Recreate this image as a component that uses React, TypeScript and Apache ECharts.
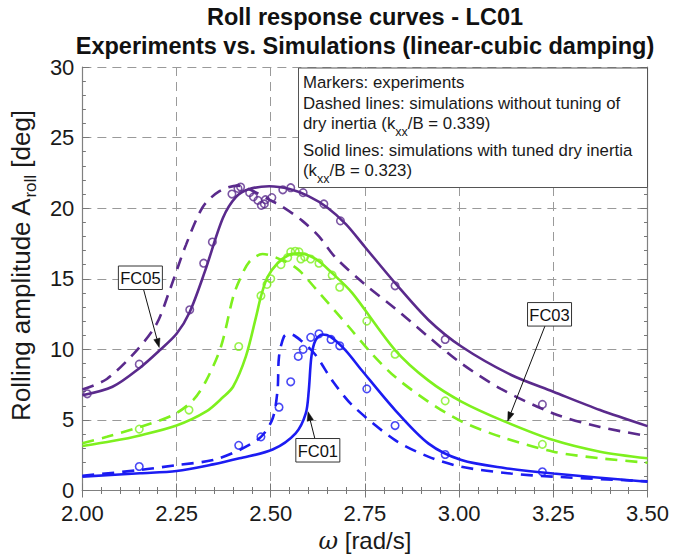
import React, { useEffect, useRef } from "react";
import * as echarts from "echarts";

// ---------- data (omega [rad/s], roll amplitude [deg]) ----------
const fc05Experiments: [number, number][] = [
  [2.013, 6.85], [2.151, 8.95], [2.285, 12.8], [2.322, 16.1], [2.345, 17.6], [2.397, 21.0],
  [2.413, 21.4], [2.42, 21.5], [2.444, 21.1], [2.454, 20.8], [2.466, 20.55], [2.475, 20.2],
  [2.483, 20.3], [2.486, 20.6], [2.503, 20.75], [2.532, 21.3], [2.553, 21.45], [2.586, 21.1],
  [2.641, 20.3], [2.685, 19.1], [2.83, 14.5], [2.963, 10.7], [3.221, 6.1],
];
const fc03Experiments: [number, number][] = [
  [2.151, 4.35], [2.283, 5.7], [2.415, 10.2], [2.474, 13.8], [2.49, 14.6], [2.5, 15.0],
  [2.527, 16.0], [2.545, 16.5], [2.553, 16.9], [2.565, 16.95], [2.575, 16.9], [2.58, 16.4],
  [2.59, 16.55], [2.606, 16.4], [2.628, 16.1], [2.663, 15.25], [2.683, 14.4], [2.755, 12.0],
  [2.83, 9.65], [2.963, 6.35], [3.221, 3.27],
];
const fc01Experiments: [number, number][] = [
  [2.151, 1.7], [2.415, 3.2], [2.474, 3.8], [2.522, 5.9], [2.553, 7.7], [2.573, 9.5],
  [2.586, 10.0], [2.606, 10.85], [2.628, 11.1], [2.66, 10.7], [2.683, 10.25], [2.755, 7.2],
  [2.83, 4.6], [2.963, 2.55], [3.221, 1.33],
];

// simulations with tuned dry inertia (solid)
const fc05Tuned: [number, number][] = [
  [2.0, 6.75], [2.08, 7.35], [2.153, 8.7], [2.206, 9.95], [2.25, 11.1], [2.285, 12.65],
  [2.325, 15.5], [2.373, 19.3], [2.408, 20.8], [2.443, 21.35], [2.496, 21.55], [2.55, 21.35],
  [2.6, 20.85], [2.65, 20.05], [2.7, 18.85], [2.75, 17.25], [2.83, 14.7], [2.918, 12.1],
  [3.006, 10.2], [3.137, 8.2], [3.25, 7.0], [3.374, 5.7], [3.5, 4.56],
];
const fc03Tuned: [number, number][] = [
  [2.0, 3.15], [2.08, 3.5], [2.153, 3.9], [2.25, 4.6], [2.329, 5.6], [2.373, 6.6],
  [2.4, 7.35], [2.434, 9.5], [2.461, 12.3], [2.474, 13.75], [2.491, 15.1], [2.518, 16.1],
  [2.549, 16.7], [2.575, 16.8], [2.619, 16.4], [2.663, 15.4], [2.716, 14.0], [2.83, 9.95],
  [2.918, 7.8], [3.006, 6.3], [3.12, 4.9], [3.25, 3.57], [3.374, 2.75], [3.5, 2.28],
];
const fc01Tuned: [number, number][] = [
  [2.0, 0.98], [2.153, 1.22], [2.25, 1.38], [2.347, 1.85], [2.417, 2.28], [2.505, 2.9],
  [2.566, 4.05], [2.593, 5.46], [2.601, 7.1], [2.608, 9.5], [2.619, 10.65], [2.637, 11.05],
  [2.658, 10.9], [2.698, 9.95], [2.742, 8.5], [2.83, 5.7], [2.918, 3.34],
  [3.006, 2.16], [3.12, 1.6], [3.25, 1.2], [3.5, 0.62],
];

// simulations without tuning (dashed)
const fc05Untuned: [number, number][] = [
  [2.0, 7.15], [2.065, 7.9], [2.145, 9.95], [2.197, 11.8], [2.232, 14.2], [2.275, 17.4],
  [2.32, 20.1], [2.364, 21.2], [2.412, 21.6], [2.45, 21.25], [2.496, 20.6], [2.531, 20.1],
  [2.584, 19.1], [2.628, 18.0], [2.672, 16.5], [2.75, 14.6], [2.83, 12.9], [2.918, 10.9],
  [3.006, 9.0], [3.111, 7.2], [3.25, 5.46], [3.374, 4.5], [3.5, 3.86],
];
const fc03Untuned: [number, number][] = [
  [2.0, 3.35], [2.065, 3.8], [2.153, 4.5], [2.241, 5.35], [2.294, 6.4], [2.329, 7.8],
  [2.368, 10.2], [2.4, 13.7], [2.417, 14.9], [2.443, 16.2], [2.478, 16.75], [2.54, 16.2],
  [2.575, 15.6], [2.619, 14.3], [2.707, 11.6], [2.768, 9.7], [2.83, 8.05], [2.918, 6.3],
  [3.006, 4.9], [3.111, 3.8], [3.25, 2.75], [3.374, 2.28], [3.5, 1.97],
];
const fc01Untuned: [number, number][] = [
  [2.0, 1.05], [2.153, 1.45], [2.25, 1.8], [2.347, 2.16], [2.417, 2.87],
  [2.474, 3.8], [2.505, 5.1], [2.518, 7.1], [2.522, 9.5], [2.535, 10.9], [2.549, 11.1],
  [2.579, 10.65], [2.619, 9.6], [2.663, 7.8], [2.716, 6.05], [2.83, 3.57],
  [2.918, 2.4], [3.006, 1.68], [3.137, 1.2], [3.25, 0.98], [3.5, 0.65],
];

// annotations (data coordinates)
const annotationLabels = ["FC05", "FC01", "FC03"];
const annotationBoxCenters: [number, number][] = [[2.154, 15.07], [2.625, 2.85], [3.24, 12.48]];
const annotationArrowTips: [number, number][] = [[2.204, 10.13], [2.599, 5.58], [3.129, 4.92]];

const titleLines = ["Roll response curves - LC01", "Experiments vs. Simulations (linear-cubic damping)"];
const noteLines = [
  "Markers: experiments",
  "Dashed lines: simulations without tuning of",
  "dry inertia (k{sub|xx}/B = 0.339)",
  "Solid lines: simulations with tuned dry inertia",
  "(k{sub|xx}/B = 0.323)",
];

const PURPLE = "#5a2a8c";
const GREEN = "#7ef01e";
const BLUE = "#1c1cf2";
const FONT = "Liberation Sans, Arial, Helvetica, sans-serif";

const GRID = { left: 78.5, right: 25.5, top: 67, bottom: 67.5 };

function lineSeries(data: [number, number][], color: string, dashed: boolean) {
  return {
    type: "line",
    data,
    showSymbol: false,
    smooth: 0.3,
    lineStyle: { color, width: 2.6, type: dashed ? [12, 8] : "solid" },
    silent: true,
    z: 3,
  };
}
function markerSeries(data: [number, number][], color: string) {
  return {
    type: "scatter",
    data,
    symbol: "circle",
    symbolSize: 7.5,
    itemStyle: { color: "rgba(255,255,255,0)", borderColor: color, borderWidth: 1.6 },
    silent: true,
    z: 4,
  };
}

const tickStyle = { show: true, inside: true, length: 7, lineStyle: { color: "#777", width: 1 } };
const minorStyle = { show: true, splitNumber: 5, length: 3.5, lineStyle: { color: "#777", width: 1 } };
const axisLineStyle = { show: true, lineStyle: { color: "#808080", width: 1.2 } };
const gridLineStyle = { show: true, lineStyle: { color: "#9a9a9a", width: 1, type: [9, 6] } };

export default function App() {
  const ref = useRef<HTMLDivElement>(null);
  useEffect(() => {
    if (!ref.current) return;
    const chart = echarts.init(ref.current, null, { renderer: "svg" });
    const option: any = {
      animation: false,
      backgroundColor: "#ffffff",
      textStyle: { fontFamily: FONT },
      grid: GRID,
      xAxis: [
        {
          type: "value", min: 2, max: 3.5, interval: 0.25, position: "bottom",
          axisLine: axisLineStyle, axisTick: tickStyle, minorTick: minorStyle,
          splitLine: gridLineStyle,
          axisLabel: { fontSize: 22, color: "#1a1a1a", margin: 11.5, formatter: (v: number) => v.toFixed(2) },
          name: "{i|ω} [rad/s]", nameLocation: "middle", nameGap: 38,
          nameTextStyle: {
            fontSize: 24, color: "#1a1a1a",
            rich: { i: { fontSize: 24, fontStyle: "italic", color: "#1a1a1a", fontFamily: "DejaVu Serif, serif" } },
          },
        },
        {
          type: "value", min: 2, max: 3.5, interval: 0.25, position: "top",
          axisLine: axisLineStyle, axisTick: tickStyle, minorTick: minorStyle,
          splitLine: { show: false }, axisLabel: { show: false },
        },
      ],
      yAxis: [
        {
          type: "value", min: 0, max: 30, interval: 5, position: "left",
          axisLine: axisLineStyle, axisTick: tickStyle, minorTick: minorStyle,
          splitLine: gridLineStyle,
          axisLabel: { fontSize: 22, color: "#1a1a1a", margin: 8 },
          name: "Rolling amplitude A{sub|roll} [deg]", nameLocation: "middle", nameGap: 40,
          nameTextStyle: {
            fontSize: 26, color: "#1a1a1a", padding: [0, 0, 0, 26],
            rich: { sub: { fontSize: 17, color: "#1a1a1a", verticalAlign: "bottom", lineHeight: 36 } },
          },
        },
        {
          type: "value", min: 0, max: 30, interval: 5, position: "right",
          axisLine: axisLineStyle, axisTick: tickStyle, minorTick: minorStyle,
          splitLine: { show: false }, axisLabel: { show: false },
        },
      ],
      series: [
        lineSeries(fc05Untuned, PURPLE, true),
        lineSeries(fc03Untuned, GREEN, true),
        lineSeries(fc01Untuned, BLUE, true),
        lineSeries(fc05Tuned, PURPLE, false),
        lineSeries(fc03Tuned, GREEN, false),
        lineSeries(fc01Tuned, BLUE, false),
        markerSeries(fc05Experiments, PURPLE),
        markerSeries(fc03Experiments, GREEN),
        markerSeries(fc01Experiments, BLUE),
      ],
    };
    chart.setOption(option);

    // ---- title, note box and labelled arrows ----
    const graphics: any[] = [];
    const W = 673;
    const gx1 = W - GRID.right;
    const titleX = (GRID.left + gx1) / 2 + 2;
    const titleYs = [17, 46];
    titleLines.forEach((t, i) => {
      graphics.push({
        type: "text",
        x: titleX,
        y: titleYs[i],
        style: {
          text: t, fontSize: 23.5, fontWeight: "bold", fontFamily: FONT, fill: "#111",
          align: "center", verticalAlign: "middle",
        },
        z: 100,
      });
    });

    const noteLeft = 298.5;
    const noteTop = GRID.top + 1;
    graphics.push({
      type: "rect",
      shape: { x: noteLeft, y: noteTop, width: gx1 - noteLeft, height: 119.5 },
      style: { fill: "#ffffff", stroke: "#555", lineWidth: 1 },
      z: 100,
    });
    const lineYs = [82.7, 103.3, 123.3, 150.7, 170];
    noteLines.forEach((t, i) => {
      graphics.push({
        type: "text",
        x: noteLeft + 4.5,
        y: lineYs[i],
        style: {
          text: t,
          fontSize: 16.8,
          fontFamily: FONT,
          fill: "#1a1a1a",
          verticalAlign: "middle",
          rich: {
            sub: { fontSize: 12.5, fill: "#1a1a1a", fontFamily: FONT, verticalAlign: "bottom", lineHeight: 30 },
          },
        },
        z: 101,
      });
    });

    annotationLabels.forEach((label, i) => {
      const c = chart.convertToPixel({ gridIndex: 0 }, annotationBoxCenters[i]) as number[];
      const tip = chart.convertToPixel({ gridIndex: 0 }, annotationArrowTips[i]) as number[];
      const bw = 44, bh = 23.5;
      const dx = tip[0] - c[0], dy = tip[1] - c[1];
      const tx = dx !== 0 ? (bw / 2) / Math.abs(dx) : Infinity;
      const ty = dy !== 0 ? (bh / 2) / Math.abs(dy) : Infinity;
      const t = Math.min(tx, ty);
      const sx = c[0] + dx * t, sy = c[1] + dy * t;
      const len = Math.hypot(tip[0] - sx, tip[1] - sy);
      const ux = (tip[0] - sx) / len, uy = (tip[1] - sy) / len;
      const hl = 9, hw = 3.2;
      const bx = tip[0] - ux * hl, by = tip[1] - uy * hl;
      graphics.push({
        type: "line",
        shape: { x1: sx, y1: sy, x2: bx, y2: by },
        style: { stroke: "#111", lineWidth: 1 },
        z: 90,
      });
      graphics.push({
        type: "polygon",
        shape: { points: [[tip[0], tip[1]], [bx - uy * hw, by + ux * hw], [bx + uy * hw, by - ux * hw]] },
        style: { fill: "#111", stroke: "#111", lineWidth: 0.5 },
        z: 90,
      });
      graphics.push({
        type: "rect",
        shape: { x: c[0] - bw / 2, y: c[1] - bh / 2, width: bw, height: bh },
        style: { fill: "#ffffff", stroke: "#333", lineWidth: 1 },
        z: 91,
      });
      graphics.push({
        type: "text",
        x: c[0],
        y: c[1] + 0.5,
        style: { text: label, fontSize: 16.5, fontFamily: FONT, fill: "#111", align: "center", verticalAlign: "middle" },
        z: 92,
      });
    });
    chart.setOption({ graphic: graphics });
    return () => chart.dispose();
  }, []);
  return <div ref={ref} style={{ position: "fixed", left: 0, top: 0, width: 673, height: 558 }} />;
}
